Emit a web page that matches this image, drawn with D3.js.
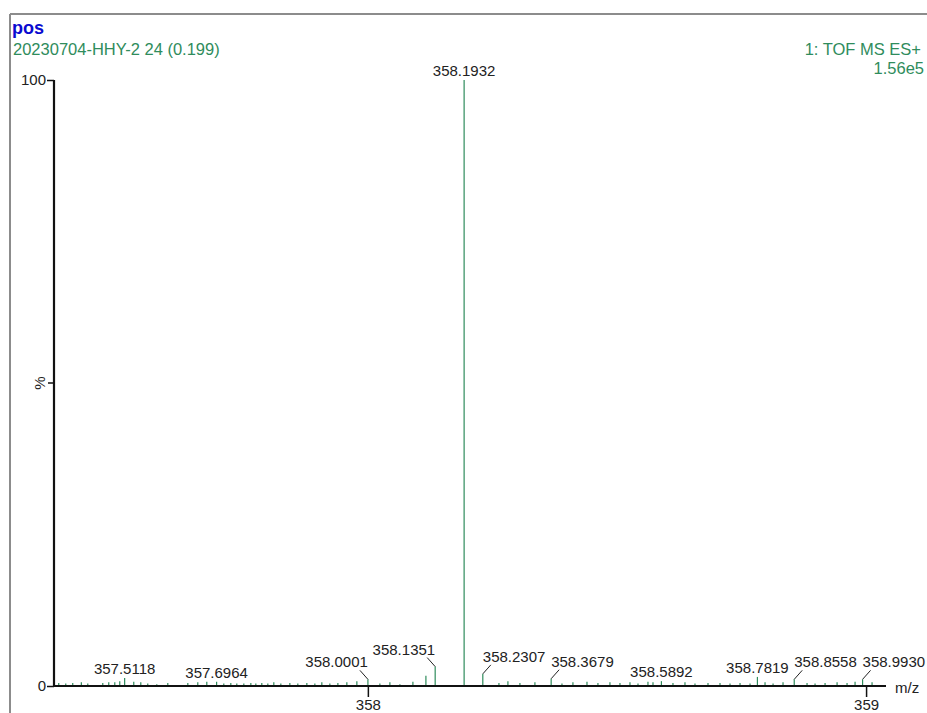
<!DOCTYPE html>
<html>
<head>
<meta charset="utf-8">
<script src="https://cdn.jsdelivr.net/npm/d3@7"></script>
<style>
  html, body { margin: 0; padding: 0; background: #fff; }
  svg { display: block; font-family: "Liberation Sans", Arial, sans-serif; }
</style>
</head>
<body>
<svg id="chart" width="927" height="713"></svg>
<script>
// Spectrum header texts
const sampleTitle = "pos";
const sampleInfo = "20230704-HHY-2 24 (0.199)";
const functionInfo = "1: TOF MS ES+";
const basePeakIntensity = "1.56e5";

// Axis ranges and ticks
const mzDomain = [357.37, 359.04];
const mzTicks = [358, 359];
const intensityDomain = [0, 100];
const intensityTicks = [0, 100];
const xAxisTitle = "m/z";
const yAxisTitle = "%";

// Labelled centroid peaks (m/z, relative intensity %)
const labelledMz = [357.5118, 357.6964, 358.0001, 358.1351, 358.1932, 358.2307, 358.3679, 358.5892, 358.7819, 358.8558, 358.9930];
const labelledIntensity = [1.3, 0.7, 1.1, 3.2, 100, 2.0, 1.2, 0.8, 1.5, 1.1, 1.1];

// Unlabelled minor peaks (m/z, relative intensity %)
const minorMz = [
  357.3795, 357.3936, 357.4076, 357.4249, 357.4378, 357.4679, 357.4799, 357.4920, 357.5020,
  357.5301, 357.5442, 357.5582, 357.5763, 357.5984, 357.6386, 357.6586, 357.6767,
  357.7108, 357.7249, 357.7369, 357.7510, 357.7651, 357.7751, 357.7871, 357.7992, 357.8112,
  357.8253, 357.8434, 357.8594, 357.8775, 357.8936, 357.9076, 357.9237, 357.9398, 357.9578, 357.9779,
  358.0241, 358.0442, 358.0643, 358.0904, 358.1165,
  358.2631, 358.2811, 358.3052, 358.3353,
  358.3896, 358.4116, 358.4398, 358.4618, 358.4859, 358.5060, 358.5261, 358.5422, 358.5622, 358.5723,
  358.6124, 358.6365, 358.6566, 358.6827, 358.7068, 358.7269, 358.7470, 358.7671,
  358.7972, 358.8133, 358.8333, 358.8815, 358.8976, 358.9177, 358.9418, 358.9618, 358.9779, 359.0120
];
const minorIntensity = [
  0.5, 0.4, 0.5, 0.6, 0.4, 0.5, 0.6, 0.6, 0.8,
  0.7, 0.6, 0.4, 0.3, 0.5, 0.5, 0.6, 0.7,
  0.4, 0.5, 0.4, 0.4, 0.5, 0.4, 0.5, 0.4, 0.6,
  0.4, 0.5, 0.4, 0.5, 0.4, 0.6, 0.4, 0.5, 0.6, 0.8,
  0.4, 0.6, 0.3, 0.7, 1.7,
  0.5, 0.8, 0.5, 0.6,
  0.4, 0.6, 0.7, 0.5, 0.6, 0.5, 0.6, 0.4, 0.7, 0.6,
  0.5, 0.6, 0.4, 0.5, 0.5, 0.4, 0.5, 0.4,
  0.6, 0.4, 0.6, 0.5, 0.4, 0.5, 0.6, 0.5, 0.7, 0.6
];

// Where each peak label sits: centred above, or pushed to one side with a leader line
const labelSide = ["c", "c", "l", "l", "c", "r", "r", "c", "c", "r", "r"];

// ---- layout ----
const W = 927, H = 713;
const plot = { left: 54, right: 886, top: 80, bottom: 686 };
const peakColor = "#2f8c5c";
const textGreen = "#2f8c5c";
const axisColor = "#111";

const svg = d3.select("#chart");

const x = d3.scaleLinear().domain(mzDomain).range([plot.left, plot.right]);
const y = d3.scaleLinear().domain(intensityDomain).range([plot.bottom, plot.top]);

// Window frame (top and left edges)
svg.append("line").attr("x1", 10).attr("x2", W).attr("y1", 14).attr("y2", 14)
  .attr("stroke", "#8c8c8c").attr("stroke-width", 2);
svg.append("line").attr("x1", 10).attr("x2", 10).attr("y1", 14).attr("y2", H)
  .attr("stroke", "#8c8c8c").attr("stroke-width", 2);

// Header
svg.append("text").attr("x", 12).attr("y", 34).text(sampleTitle)
  .attr("font-size", 18).attr("font-weight", "bold").attr("fill", "#0a0ad0");
svg.append("text").attr("x", 13).attr("y", 55).text(sampleInfo)
  .attr("font-size", 16.5).attr("fill", textGreen);
svg.append("text").attr("x", 921).attr("y", 55).attr("text-anchor", "end").text(functionInfo)
  .attr("font-size", 16.5).attr("fill", textGreen);
svg.append("text").attr("x", 924).attr("y", 74).attr("text-anchor", "end").text(basePeakIntensity)
  .attr("font-size", 16.5).attr("fill", textGreen);

// Peaks
const minorPeaks = minorMz.map((mz, i) => ({ mz, v: minorIntensity[i] }));
const labelledPeaks = labelledMz.map((mz, i) => ({ mz, v: labelledIntensity[i], side: labelSide[i] }));
const allPeaks = minorPeaks.concat(labelledPeaks);

svg.append("g").selectAll("line").data(allPeaks).join("line")
  .attr("x1", d => x(d.mz)).attr("x2", d => x(d.mz))
  .attr("y1", y(0)).attr("y2", d => y(d.v))
  .attr("stroke", peakColor).attr("stroke-width", 1.2);

// Axes
const xAxis = d3.axisBottom(x).tickValues(mzTicks).tickFormat(d3.format("d")).tickSize(11).tickPadding(2);
const gx = svg.append("g").attr("transform", `translate(0,${plot.bottom})`).call(xAxis);
gx.select(".domain").attr("d", `M${plot.left},0H${plot.right}`).attr("stroke", axisColor).attr("stroke-width", 2.2);
gx.selectAll(".tick line").attr("stroke", axisColor).attr("stroke-width", 1.5);
gx.selectAll(".tick text").attr("font-size", 15).attr("fill", "#222").attr("font-family", "Liberation Sans, Arial, sans-serif");

const yAxis = d3.axisLeft(y).tickValues(intensityTicks).tickFormat(d3.format("d")).tickSize(7).tickPadding(1);
const gy = svg.append("g").attr("transform", `translate(${plot.left},0)`).call(yAxis);
gy.select(".domain").attr("d", `M0,${plot.top}V${plot.bottom}`).attr("stroke", axisColor).attr("stroke-width", 2.2);
gy.selectAll(".tick line").attr("stroke", axisColor).attr("stroke-width", 1.5);
gy.selectAll(".tick text").attr("font-size", 15).attr("fill", "#222").attr("font-family", "Liberation Sans, Arial, sans-serif");

// Mid-scale mark carrying the % title
gy.append("line").attr("x1", -6).attr("x2", 0).attr("y1", y(50)).attr("y2", y(50))
  .attr("stroke", axisColor).attr("stroke-width", 1.5);
svg.append("text")
  .attr("transform", `translate(${plot.left - 9},${y(50)}) rotate(-90)`)
  .attr("text-anchor", "middle").attr("font-size", 15).attr("fill", "#222")
  .text(yAxisTitle);

svg.append("text").attr("x", plot.right + 9).attr("y", plot.bottom + 7)
  .attr("font-size", 15).attr("fill", "#222").text(xAxisTitle);

// Peak labels
const fmt = d3.format(".4f");
const labels = svg.append("g").attr("font-size", 15).attr("fill", "#222");
labelledPeaks.forEach(p => {
  const px = x(p.mz), py = y(p.v);
  if (p.side === "c") {
    labels.append("text").attr("x", px).attr("y", py - 4)
      .attr("text-anchor", "middle").text(fmt(p.mz));
  } else {
    const dir = p.side === "r" ? 1 : -1;
    labels.append("line")
      .attr("x1", px).attr("y1", py)
      .attr("x2", px + dir * 8).attr("y2", py - 9)
      .attr("stroke", "#222").attr("stroke-width", 1);
    labels.append("text").attr("x", px).attr("y", py - 12)
      .attr("text-anchor", dir > 0 ? "start" : "end").text(fmt(p.mz));
  }
});
</script>
</body>
</html>
